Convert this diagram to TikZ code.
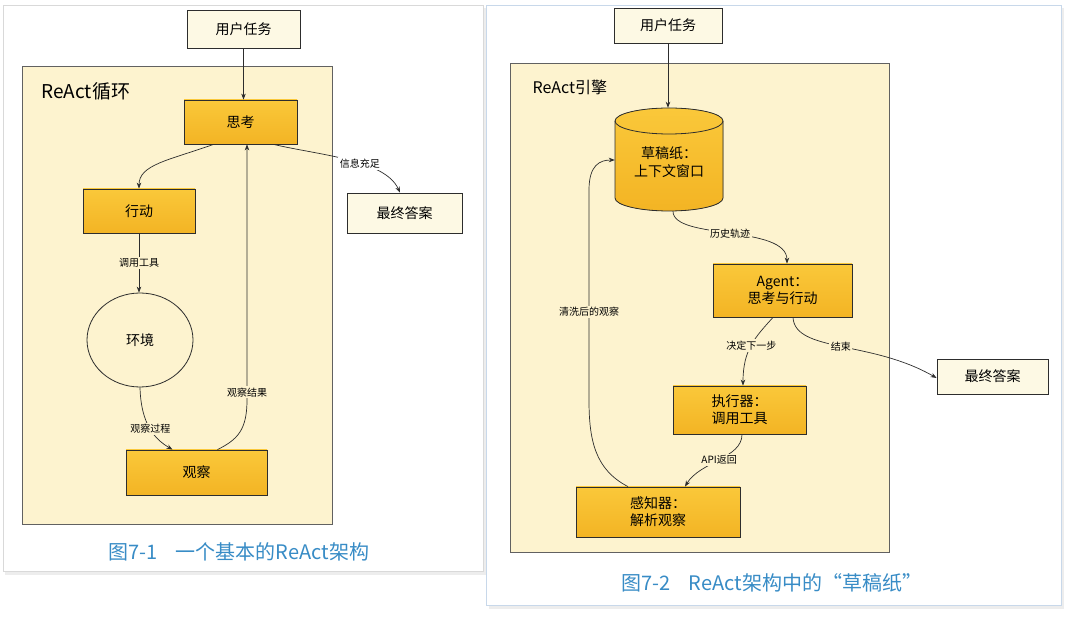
\documentclass[tikz,border=0pt]{standalone}
\usepackage{fontspec}
\setmainfont{Noto Sans CJK SC}
\usepackage{tikz}
\usetikzlibrary{arrows.meta, positioning, shapes.geometric}
\definecolor{inkgray}{RGB}{45, 45, 45}
\definecolor{paneltan}{RGB}{253, 243, 207}
\definecolor{creamfill}{RGB}{253, 249, 228}
\definecolor{goldtop}{RGB}{250, 200, 58}
\definecolor{goldbot}{RGB}{243, 180, 36}
\definecolor{capblue}{RGB}{56, 140, 198}
\definecolor{cardedge}{RGB}{200, 216, 234}
\newcommand{\boxfont}{\fontsize{14}{17}\selectfont}
\newcommand{\tagfont}{\fontsize{10}{12}\selectfont}

\begin{document}
\begin{tikzpicture}[x=1pt, y=-1pt, >={Stealth[length=6pt, width=4.5pt]},
  goldbox/.style={draw=inkgray, line width=0.8pt, top color=goldtop, bottom color=goldbot,
    inner sep=0pt, align=center, font=\boxfont},
  creambox/.style={draw=inkgray, line width=0.8pt, fill=creamfill, inner sep=0pt, font=\boxfont},
  enginebox/.style={draw=inkgray!75, line width=0.6pt, fill=paneltan, inner sep=0pt, anchor=north west},
  flow/.style={draw=inkgray, line width=0.7pt},
  tag/.style={fill=paneltan, inner sep=1.5pt, font=\tagfont},
  captext/.style={text=capblue, font=\fontsize{20}{24}\selectfont}]

  \useasboundingbox (0,0) rectangle (1080,617);
  \fill[white] (0,0) rectangle (1080,617);

  % --- cards ---
  \fill[black!7] (5,8) rectangle (486,575);
  \filldraw[fill=white, draw=black!15] (3,5) rectangle (483,571);
  \fill[black!7] (489,8) rectangle (1064,609);
  \filldraw[fill=white, draw=cardedge] (486,5) rectangle (1061,605);

  % --- left: basic ReAct loop ---
  \node[creambox, minimum width=113pt, minimum height=38pt] (task1) at (243.5,29) {用户任务};
  \node[enginebox, minimum width=310pt, minimum height=458pt] (loop1) at (22,66) {};
  \node[anchor=west, font=\fontsize{19}{21}\selectfont] (loop1title) at (38,91) {ReAct循环};
  \node[goldbox, minimum width=113pt, minimum height=44pt] (think1) at (240.5,122) {思考};
  \node[goldbox, minimum width=112pt, minimum height=44pt] (act1) at (139,211) {行动};
  \node[creambox, minimum width=115pt, minimum height=40pt] (answer1) at (404.5,213) {最终答案};
  \node[ellipse, draw=inkgray, line width=0.8pt, fill=paneltan, minimum width=106pt,
    minimum height=94pt, font=\boxfont] (env) at (140,340) {环境};
  \node[goldbox, minimum width=141pt, minimum height=45pt] (obs1) at (196.5,472.5) {观察};
  \node[captext] (cap1) at (239,552) {图7-1\hspace{0.9em}一个基本的ReAct架构};

  \draw[->, flow] (task1.south) -- (task1.south |- think1.north);
  \draw[->, flow] ([xshift=-27pt]think1.south) .. controls +(-45,16) and +(0,-24) .. (act1.north);
  \draw[->, flow] ([xshift=33pt]think1.south) .. controls +(47,11) and +(-15,-33) ..
    node[tag, fill=white, pos=0.58] {信息充足} ([xshift=-4.5pt]answer1.north);
  \draw[->, flow] (act1.south) -- node[tag] {调用工具} (act1.south |- env.north);
  \draw[->, flow] (env.south) .. controls +(1,38) and +(-17,-10) ..
    node[tag] {观察过程} ([xshift=-24pt]obs1.north);
  \draw[->, flow] ([xshift=21pt]obs1.north) .. controls +(20,-10) and +(0,30) .. (247,400)
    -- node[tag, pos=0.03] {观察结果} ([xshift=6.5pt]think1.south);

  % --- right: ReAct engine with scratchpad ---
  \node[creambox, minimum width=108pt, minimum height=35pt] (task2) at (668,25.5) {用户任务};
  \node[enginebox, minimum width=379pt, minimum height=489pt] (engine) at (510,63) {};
  \node[anchor=west, font=\fontsize{16}{18}\selectfont] (enginetitle) at (529,87) {ReAct引擎};

  \coordinate (scratchc) at (669,159.5);
  \filldraw[draw=inkgray, line width=0.8pt, top color=goldtop, bottom color=goldbot]
    ([shift={(-54pt,38.5pt)}]scratchc) -- ([shift={(-54pt,-38.5pt)}]scratchc)
    arc[start angle=180, end angle=360, x radius=54pt, y radius=13pt]
    -- ([shift={(54pt,38.5pt)}]scratchc)
    arc[start angle=0, end angle=180, x radius=54pt, y radius=13pt] -- cycle;
  \draw[inkgray, line width=0.8pt] ([shift={(-54pt,38.5pt)}]scratchc)
    arc[start angle=180, end angle=360, x radius=54pt, y radius=13pt];
  \node[inner sep=0pt, minimum width=108pt, minimum height=103pt, align=center,
    font=\fontsize{14}{18}\selectfont] (scratch) at (scratchc) {\mbox{}\\草稿纸：\\上下文窗口};

  \node[goldbox, minimum width=139pt, minimum height=53pt] (agent) at (782.5,290.5) {Agent：\\思考与行动};
  \node[goldbox, minimum width=133pt, minimum height=48pt] (exec) at (739.5,410) {执行器：\\调用工具};
  \node[goldbox, minimum width=164pt, minimum height=50pt] (percept) at (658,512) {感知器：\\解析观察};
  \node[creambox, minimum width=111pt, minimum height=35pt] (answer2) at (992.5,376.5) {最终答案};
  \node[captext] (cap2) at (772,583) {图7-2\hspace{0.9em}ReAct架构中的“草稿纸”};

  \draw[->, flow] (task2.south) -- (task2.south |- scratch.north);
  \draw[->, flow] ([xshift=4pt]scratch.south) .. controls +(0,29) and +(0,-39) ..
    node[tag] {历史轨迹} ([xshift=4.5pt]agent.north);
  \draw[->, flow] ([xshift=-9.5pt]agent.south) .. controls +(-18,20) and +(0,-36) ..
    node[tag] {决定下一步} ([xshift=3.5pt]exec.north);
  \draw[->, flow] ([xshift=10.5pt]agent.south) .. controls +(2,35) and +(-66,-38) ..
    node[tag] {结束} ([yshift=-1.5pt]answer2.west);
  \draw[->, flow] ([xshift=2.5pt]exec.south) .. controls +(0,24) and +(15,-25) ..
    node[tag] {API返回} ([xshift=27pt]percept.north);
  \draw[->, flow] ([xshift=-30pt]percept.north) .. controls +(-33,-17) and +(0,40) .. (589,400)
    -- node[tag, pos=0.42] {清洗后的观察} (589,190)
    .. controls +(0,-25) and +(-15,0) .. ([yshift=-0.5pt]scratch.west);

\end{tikzpicture}
\end{document}
